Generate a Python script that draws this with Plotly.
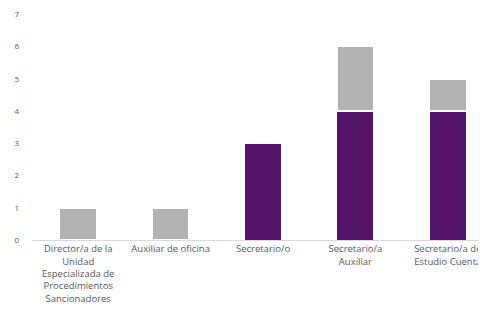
import plotly.graph_objects as go

categories = [
    "Director/a de la<br>Unidad<br>Especializada de<br>Procedimientos<br>Sancionadores",
    "Auxiliar de oficina",
    "Secretario/o",
    "Secretario/a<br>Auxiliar",
    "Secretario/a de<br>Estudio Cuenta",
]
purple_vals = [0, 0, 3, 4, 4]
grey_vals = [1, 1, 0, 2, 1]
y_ticks = [0, 1, 2, 3, 4, 5, 6, 7]

fig = go.Figure()
fig.add_trace(go.Bar(x=categories, y=purple_vals, marker_color="#541468",
                     marker_line_color="white", marker_line_width=1))
fig.add_trace(go.Bar(x=categories, y=grey_vals, marker_color="#B2B2B2",
                     marker_line_color="white", marker_line_width=1.5))

# the page body has an 8px margin, so margins are shifted to compensate
fig.update_layout(
    barmode="stack",
    bargap=0.6,
    showlegend=False,
    width=486, height=328,
    margin=dict(l=24, r=0, t=6, b=96),
    plot_bgcolor="white", paper_bgcolor="white",
    font=dict(family="Open Sans", color="#595959", size=9),
)
fig.update_xaxes(showline=True, linecolor="#D9D9D9", linewidth=1,
                 tickangle=0, ticks="", tickfont=dict(size=9.5),
                 automargin=False)
fig.update_yaxes(range=[0, 7.01], tickvals=y_ticks, showgrid=False,
                 zeroline=False, showline=False,
                 tickfont=dict(size=8, color="#595959"),
                 ticklabelstandoff=12, ticklabeloverflow="allow",
                 automargin=False)

fig.write_html("out.html")
